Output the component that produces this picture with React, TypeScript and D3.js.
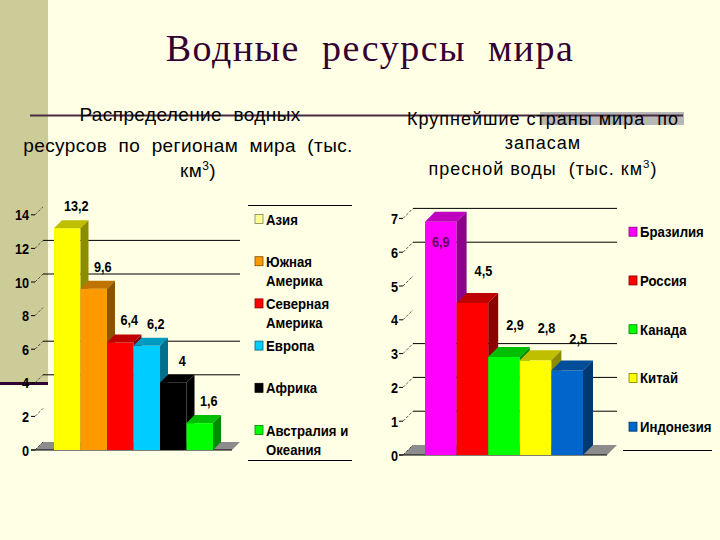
import React from "react";
import * as d3 from "d3";

const titleText = "Водные  ресурсы  мира";
const leftSubtitle = ["Распределение  водных", "ресурсов  по  регионам  мира  (тыс."];
const rightSubtitle = ["Крупнейшие страны мира  по", "запасам"];

const leftCategories = ["Азия", "Южная Америка", "Северная Америка", "Европа", "Африка", "Австралия и Океания"];
const leftLegendLines = [["Азия"], ["Южная", "Америка"], ["Северная", "Америка"], ["Европа"], ["Африка"], ["Австралия и", "Океания"]];
const leftValues = [13.2, 9.6, 6.4, 6.2, 4, 1.6];
const leftLabels = ["13,2", "9,6", "6,4", "6,2", "4", "1,6"];
const leftColors = ["#FFFF00", "#FF9900", "#FF0000", "#00CCFF", "#000000", "#00FF00"];
const leftSwatches = ["#FFFF99", "#FF9900", "#FF0000", "#00CCFF", "#000000", "#00FF00"];
const leftTicks = [0, 2, 4, 6, 8, 10, 12, 14];
const leftGrid = [4, 6, 10, 12];

const rightCategories = ["Бразилия", "Россия", "Канада", "Китай", "Индонезия"];
const rightLegendLines = [["Бразилия"], ["Россия"], ["Канада"], ["Китай"], ["Индонезия"]];
const rightValues = [6.9, 4.5, 2.9, 2.8, 2.5];
const rightLabels = ["6,9", "4,5", "2,9", "2,8", "2,5"];
const rightColors = ["#FF00FF", "#FF0000", "#00FF00", "#FFFF00", "#0066CC"];
const rightTicks = [0, 1, 2, 3, 4, 5, 6, 7];
const rightGrid = [1, 2, 3, 6, 7];

const shade = (c: string, k: number) => {
  const r = d3.rgb(c);
  return d3.rgb(r.r * k, r.g * k, r.b * k).formatHex();
};

const sansFont = "'Liberation Sans', Arial, sans-serif";
const pre = { whiteSpace: "pre" as const };

function NText(props: { x: number; y: number; sx: number; anchor?: string; fill?: string; size: number; children: React.ReactNode }) {
  return (
    <g transform={`translate(${props.x},${props.y}) scale(${props.sx},1)`}>
      <text x={0} y={0} textAnchor={props.anchor || "start"} fontFamily={sansFont} fontWeight="bold" fontSize={props.size} fill={props.fill || "#000"}>
        {props.children}
      </text>
    </g>
  );
}

type ChartProps = {
  cats: string[];
  values: number[];
  labels: string[];
  colors: string[];
  swatches: string[];
  ticks: number[];
  grid: number[];
  legend: string[][];
  yMax: number;
  base: number;
  unit: number;
  depth: number;
  barX0: number;
  barX1: number;
  floorX0: number;
  floorX1: number;
  labelRight: number;
  labelDx: number;
  labelUp: number;
  legendX: number;
  legendY0: number;
  legendStep: number;
  insideColor: string;
  insideLimit: number;
};

function Chart(p: ChartProps) {
  const y = d3.scaleLinear().domain([0, p.yMax]).range([p.base, p.base - p.yMax * p.unit]);
  const x = d3.scaleBand<string>().domain(p.cats).range([p.barX0, p.barX1]).paddingInner(0).paddingOuter(0);
  const bw = x.bandwidth();
  const d = p.depth;
  const fs = 15.5;
  return (
    <g>
      <polygon
        points={`${p.floorX0},${p.base} ${p.floorX0 + d},${p.base - d} ${p.floorX1 + d},${p.base - d} ${p.floorX1},${p.base}`}
        fill="#8C8C8C"
      />
      {p.grid.map((g) => (
        <line key={"g" + g} x1={p.floorX0 + d} x2={p.floorX1 + d} y1={y(g) - d} y2={y(g) - d} stroke="#000" strokeWidth={1} />
      ))}
      {p.ticks.map((t) => (
        <g key={"t" + t}>
          <line x1={p.floorX0 - 4} x2={p.floorX0} y1={y(t)} y2={y(t)} stroke="#000" strokeWidth={1} />
          <line x1={p.floorX0} x2={p.floorX0 + d} y1={y(t)} y2={y(t) - d} stroke="#333" strokeWidth={0.8} strokeDasharray="3,1.5" />
          <NText x={p.labelRight} y={y(t) + 5.5} sx={0.82} anchor="end" size={fs}>
            {t}
          </NText>
        </g>
      ))}
      <line x1={p.floorX0 - 4} x2={p.floorX1} y1={p.base} y2={p.base} stroke="#000" strokeWidth={1.2} />
      {p.cats.map((c, i) => {
        const x0 = x(c)!;
        const yv = y(p.values[i]);
        const col = p.colors[i];
        return (
          <g key={c}>
            <rect x={x0} y={yv} width={bw} height={p.base - yv} fill={col} />
            <polygon
              points={`${x0},${yv} ${x0 + d},${yv - d} ${x0 + bw + d},${yv - d} ${x0 + bw},${yv}`}
              fill={shade(col, 0.75)}
            />
            <polygon
              points={`${x0 + bw},${yv} ${x0 + bw + d},${yv - d} ${x0 + bw + d},${p.base - d} ${x0 + bw},${p.base}`}
              fill={shade(col, 0.55)}
            />
          </g>
        );
      })}
      {p.cats.map((c, i) => {
        const x0 = x(c)!;
        const yv = y(p.values[i]);
        let ly = yv - d - p.labelUp;
        let lx = x0 + bw / 2 + p.labelDx;
        let fill = "#000";
        if (ly - 12 < p.insideLimit) {
          ly = yv + 25;
          lx = x0 + bw / 2;
          fill = p.insideColor;
        }
        return (
          <NText key={"l" + c} x={lx} y={ly} sx={0.82} anchor="middle" size={fs} fill={fill}>
            {p.labels[i]}
          </NText>
        );
      })}
      {p.legend.map((lines, i) => {
        const cy = p.legendY0 + i * p.legendStep;
        return (
          <g key={"lg" + i}>
            <rect x={p.legendX} y={cy - 4.5} width={8} height={9} fill={p.swatches[i]} stroke={shade(p.swatches[i], 0.5)} strokeWidth={0.8} />
            {lines.map((ln, j) => (
              <NText key={j} x={p.legendX + 11} y={cy + 5.5 + j * 19} sx={0.85} size={fs}>
                {ln}
              </NText>
            ))}
          </g>
        );
      })}
    </g>
  );
}

export default function App() {
  return (
    <svg width={720} height={540} style={{ position: "absolute", left: 0, top: 0 }} xmlns="http://www.w3.org/2000/svg">
      <rect x={0} y={0} width={720} height={540} fill="#FFFFE6" />
      <rect x={0} y={0} width={48} height={382} fill="#CCCC99" />
      <line x1={0} x2={48} y1={383.5} y2={383.5} stroke="#330033" strokeWidth={3} />

      <text x={370} y={61} textAnchor="middle" fontFamily="'Liberation Serif', 'Times New Roman', serif" fontSize={38} letterSpacing={1.5} fill="#330033" xmlSpace="preserve" style={pre}>
        {titleText}
      </text>

      <rect x={540} y={112} width={144} height={13} fill="#B8B8B8" />
      <line x1={30} x2={683} y1={115.5} y2={115.5} stroke="#4A2A40" strokeWidth={2} />

      <text x={190} y={121} textAnchor="middle" fontFamily={sansFont} fontSize={19} letterSpacing={0.4} fill="#000" xmlSpace="preserve" style={pre}>{leftSubtitle[0]}</text>
      <text x={188} y={152} textAnchor="middle" fontFamily={sansFont} fontSize={19} letterSpacing={0.4} fill="#000" xmlSpace="preserve" style={pre}>{leftSubtitle[1]}</text>
      <text x={198} y={177} textAnchor="middle" fontFamily={sansFont} fontSize={19} letterSpacing={0.4} fill="#000">
        км<tspan fontSize={12} dy={-7}>3</tspan><tspan dy={7}>)</tspan>
      </text>

      <text x={543} y={125} textAnchor="middle" fontFamily={sansFont} fontSize={18} letterSpacing={1} fill="#000" xmlSpace="preserve" style={pre}>{rightSubtitle[0]}</text>
      <text x={543} y={149} textAnchor="middle" fontFamily={sansFont} fontSize={18} letterSpacing={1} fill="#000">{rightSubtitle[1]}</text>
      <text x={543} y={175} textAnchor="middle" fontFamily={sansFont} fontSize={18} letterSpacing={1} fill="#000" xmlSpace="preserve" style={pre}>
        {"пресной воды  (тыс. км"}<tspan fontSize={11.5} dy={-7}>3</tspan><tspan dy={7}>)</tspan>
      </text>

      <Chart
        cats={leftCategories}
        values={leftValues}
        labels={leftLabels}
        colors={leftColors}
        swatches={leftSwatches}
        ticks={leftTicks}
        grid={leftGrid}
        legend={leftLegendLines}
        yMax={14}
        base={450}
        unit={16.8}
        depth={8}
        barX0={54}
        barX1={213}
        floorX0={35}
        floorX1={232}
        labelRight={29}
        labelDx={9}
        labelUp={9}
        legendX={255}
        legendY0={219}
        legendStep={42.2}
        insideColor="#000"
        insideLimit={0}
      />
      <line x1={248} x2={352} y1={205.5} y2={205.5} stroke="#000" strokeWidth={1} />
      <line x1={248} x2={352} y1={460.5} y2={460.5} stroke="#000" strokeWidth={1} />

      <Chart
        cats={rightCategories}
        values={rightValues}
        labels={rightLabels}
        colors={rightColors}
        swatches={rightColors}
        ticks={rightTicks}
        grid={rightGrid}
        legend={rightLegendLines}
        yMax={7}
        base={455}
        unit={33.8}
        depth={10}
        barX0={425}
        barX1={583}
        floorX0={403}
        floorX1={607}
        labelRight={398}
        labelDx={11}
        labelUp={17}
        legendX={629}
        legendY0={231.7}
        legendStep={48.75}
        insideColor="#660066"
        insideLimit={208}
      />
      <line x1={623} x2={712} y1={450.5} y2={450.5} stroke="#000" strokeWidth={1} />
    </svg>
  );
}
